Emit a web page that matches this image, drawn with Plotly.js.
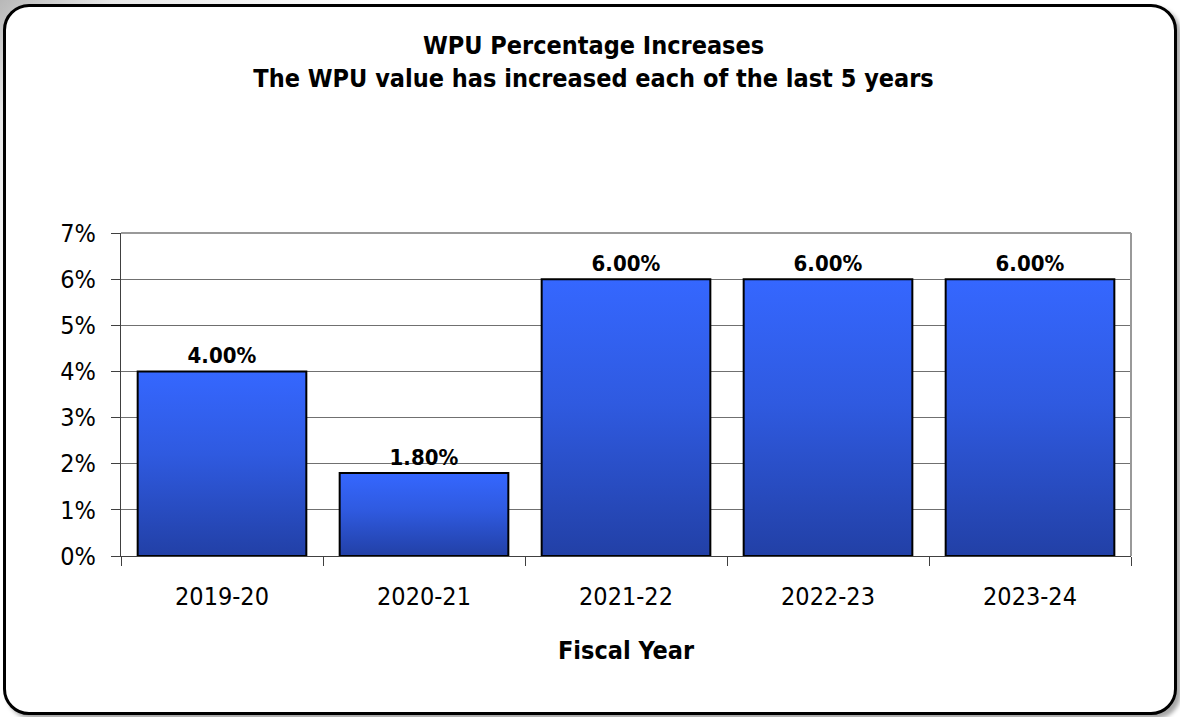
<!DOCTYPE html>
<html>
<head>
<meta charset="utf-8">
<script src="https://cdn.plot.ly/plotly-3.0.1.min.js"></script>
<style>
  html, body { margin: 0; padding: 0; width: 1180px; height: 717px; overflow: hidden;
    background: linear-gradient(135deg, #b8b8b8 0%, #e8e8e8 6%, #ffffff 20%); }
  #frame { position: absolute; left: 3px; top: 4px; width: 1168px; height: 705px;
    border: 3px solid #000; border-radius: 26px; background: #fff;
    box-shadow: 4px 4px 4px rgba(0,0,0,0.35); overflow: hidden; }
  #chart { position: absolute; left: -6px; top: -7px; width: 1180px; height: 717px; }
</style>
</head>
<body>
<div id="frame"><div id="chart"></div></div>
<script>
const fiscalYears = ['2019-20', '2020-21', '2021-22', '2022-23', '2023-24'];
const increases = [4.00, 1.80, 6.00, 6.00, 6.00];
const chartTitle = 'WPU Percentage Increases<br>The WPU value has increased each of the last 5 years';
const xTitle = 'Fiscal Year';

const FONT = '"Liberation Sans Narrow", "Arial Narrow", "DejaVu Sans Condensed", Arial, sans-serif';

const trace = {
  type: 'bar',
  x: fiscalYears,
  y: increases,
  marker: { color: '#3060E8', line: { color: '#000', width: 2 } },
  text: increases.map(v => v.toFixed(2) + '%'),
  textposition: 'outside',
  cliponaxis: false,
  textfont: { family: FONT, size: 22, color: '#000', weight: 'bold' },
  hoverinfo: 'skip'
};

const layout = {
  width: 1180, height: 717,
  margin: { l: 121, r: 49, t: 233, b: 161 },
  paper_bgcolor: 'rgba(0,0,0,0)',
  plot_bgcolor: '#fff',
  showlegend: false,
  bargap: 0.165,
  title: {
    text: '<b>' + chartTitle.replace('<br>', '</b><br><b>') + '</b>',
    font: { family: FONT, size: 25, color: '#000' },
    x: 0.503, xanchor: 'center', y: 0.924, yanchor: 'top'
  },
  xaxis: {
    type: 'category',
    showgrid: false,
    showline: true, linecolor: '#404040', linewidth: 1,
    ticks: 'outside', tickson: 'boundaries', ticklen: 9, tickcolor: '#404040', tickwidth: 1,
    tickfont: { family: FONT, size: 25, color: '#000' },
    ticklabelstandoff: 18,
    title: { text: '<b>' + xTitle + '</b>', font: { family: FONT, size: 25, color: '#000' }, standoff: 31 }
  },
  yaxis: {
    range: [0, 7], dtick: 1, ticksuffix: '%',
    showgrid: true, gridcolor: '#707070', gridwidth: 1,
    showline: true, linecolor: '#404040', linewidth: 1,
    ticks: 'outside', ticklen: 9, tickcolor: '#404040', tickwidth: 1,
    tickfont: { family: FONT, size: 25, color: '#000' },
    ticklabelstandoff: 10,
    zeroline: false
  },
  shapes: [
    { type: 'line', xref: 'paper', yref: 'paper', x0: 0, x1: 1, y0: 1, y1: 1, line: { color: '#999', width: 2 }, layer: 'above' },
    { type: 'line', xref: 'paper', yref: 'paper', x0: 1, x1: 1, y0: 0, y1: 1, line: { color: '#999', width: 2 }, layer: 'above' }
  ]
};

Plotly.newPlot('chart', [trace], layout, { staticPlot: true, displayModeBar: false }).then(gd => {
  const svg = gd.querySelector('svg.main-svg');
  const ns = 'http://www.w3.org/2000/svg';
  let defs = svg.querySelector('defs');
  if (!defs) { defs = document.createElementNS(ns, 'defs'); svg.insertBefore(defs, svg.firstChild); }
  const g = document.createElementNS(ns, 'linearGradient');
  g.setAttribute('id', 'barGrad');
  g.setAttribute('x1', '0'); g.setAttribute('y1', '0'); g.setAttribute('x2', '0'); g.setAttribute('y2', '1');
  [['0', '#3567FF'], ['0.45', '#2F5AE0'], ['1', '#2240A6']].forEach(([o, c]) => {
    const s = document.createElementNS(ns, 'stop');
    s.setAttribute('offset', o); s.setAttribute('stop-color', c);
    g.appendChild(s);
  });
  defs.appendChild(g);
  gd.querySelectorAll('.bars .point path').forEach(p => { p.style.fill = 'url(#barGrad)'; });
});
</script>
</body>
</html>
